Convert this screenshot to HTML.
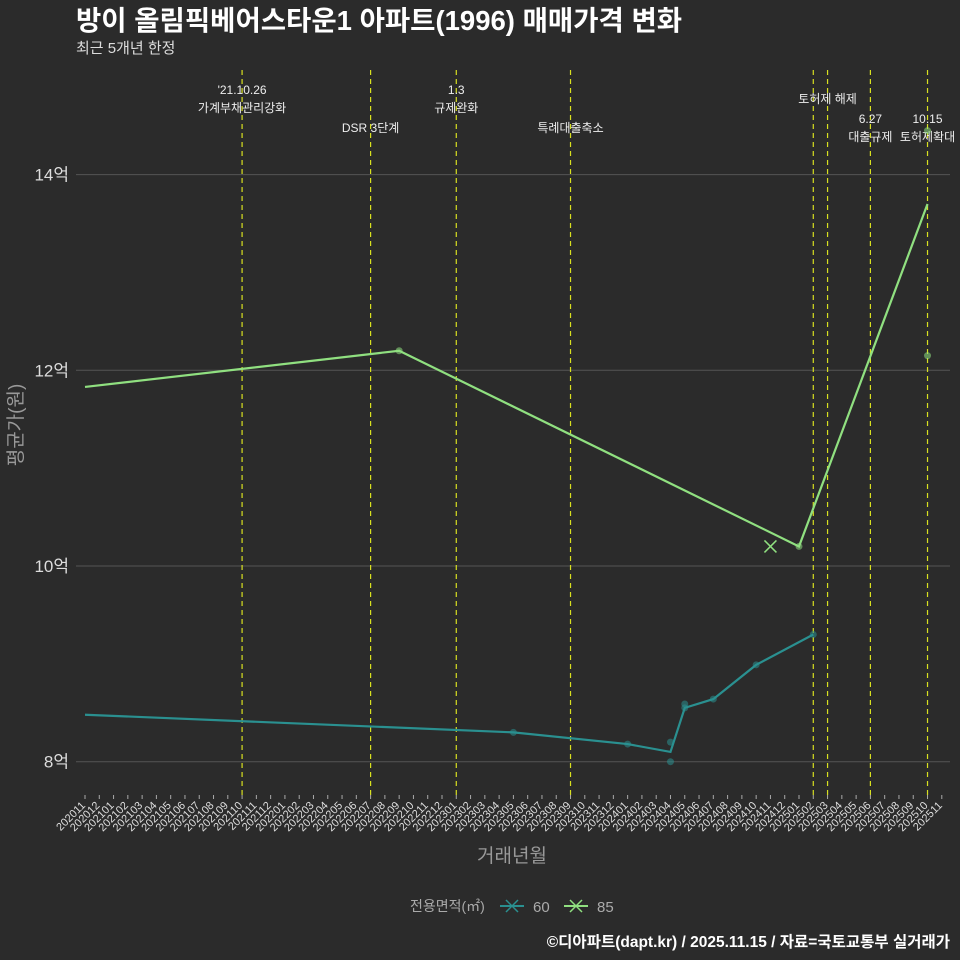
<!DOCTYPE html>
<html><head><meta charset="utf-8"><style>
body{margin:0;background:#2b2b2b;overflow:hidden;}
svg{display:block;}
svg text{font-family:"Liberation Sans","Noto Sans CJK KR",sans-serif;}
</style></head><body>
<svg width="960" height="960" viewBox="0 0 960 960" xmlns="http://www.w3.org/2000/svg">
<rect width="960" height="960" fill="#2b2b2b"/>
<text x="76" y="30" font-size="27.5" font-weight="bold" fill="#fff">방이 올림픽베어스타운1 아파트(1996) 매매가격 변화</text>
<text x="76" y="53" font-size="15" fill="#ddd">최근 5개년 한정</text>
<g id="grid"></g>
<g id="vlines"></g>
<g id="series"></g>
<g id="xaxis"></g>
<text x="512" y="862" font-size="19" fill="#999" text-anchor="middle">거래년월</text>
<text transform="translate(22,425) rotate(-90)" font-size="19" fill="#999" text-anchor="middle">평균가(원)</text>
<g>
<text x="410" y="911" font-size="14" fill="#aaa">전용면적(㎡)</text>
<g><line x1="500" y1="906" x2="524" y2="906" stroke="#2a9090" stroke-width="2"/><path d="M506 900l12 12M518 900l-12 12" stroke="#2a9090" stroke-width="1.5"/><text x="533" y="912" font-size="15" fill="#aaa">60</text></g>
<g><line x1="564" y1="906" x2="588" y2="906" stroke="#90e080" stroke-width="2"/><path d="M570 900l12 12M582 900l-12 12" stroke="#90e080" stroke-width="1.5"/><text x="597" y="912" font-size="15" fill="#aaa">85</text></g>
</g>
<text x="950" y="947" font-size="15.5" font-weight="bold" fill="#fff" text-anchor="end">©디아파트(dapt.kr) / 2025.11.15 / 자료=국토교통부 실거래가</text>
</svg>
<script>
const yTicks=[8,10,12,14];
const eventMonths=[11,20,26,34,51,52,55,59];
const eventLabels=[["'21.10.26","가계부채관리강화"],["","DSR 3단계"],["1.3","규제완화"],["","특례대출축소"],[],["토허제 해제"],["6.27","대출규제"],["10.15","토허제확대"]];
const s85LineM=[0,22,50,59];
const s85LineV=[11.83,12.2,10.2,13.7];
const s85PtM=[22,50,59,59];
const s85PtV=[12.2,10.2,12.15,14.45];
const s60LineM=[0,30,38,41,42,44,47,51];
const s60LineV=[8.48,8.3,8.18,8.1,8.55,8.64,8.99,9.3];
const s60PtM=[30,38,41,41,42,42,44,47,51];
const s60PtV=[8.3,8.18,8.0,8.2,8.59,8.55,8.64,8.99,9.3];
const xm=m=>85+m*14.28;
const yv=v=>566-(v-10)*97.85;
const NS="http://www.w3.org/2000/svg";
function mk(p,t,a){const e=document.createElementNS(NS,t);for(const k in a)e.setAttribute(k,a[k]);p.appendChild(e);return e;}
const grid=document.getElementById('grid');
yTicks.forEach(v=>{
 const l=mk(grid,'line',{x1:76,x2:950,y1:yv(v),y2:yv(v),stroke:'#555','stroke-width':1});
 
 
 const t=mk(grid,'text',{x:69,y:yv(v)+6,'font-size':17,fill:'#ddd','text-anchor':'end'});t.textContent=v+'억';
 
 
});
const vl=document.getElementById('vlines');
const labY=[[94,112],[0,132],[94,112],[0,132],[],[103],[123,141],[123,141]];
eventMonths.forEach((m,i)=>{
 const l=mk(vl,'line',{x1:xm(m),x2:xm(m),y1:70,y2:795,stroke:'#d8e020','stroke-width':1.2,'stroke-dasharray':'5,4'});
 
 
 (eventLabels[i]||[]).forEach((s,j)=>{if(!s)return;
  const t=mk(vl,'text',{x:xm(m),y:labY[i][j],'font-size':12,fill:'#eee','text-anchor':'middle'});t.textContent=s;
  
  
 });
});
const xa=document.getElementById('xaxis');
for(let m=0;m<=60;m++){
 const mo=11+m;const yr=2020+Math.floor((mo-1)/12),mm=((mo-1)%12)+1;
 const lab=yr+''+String(mm).padStart(2,'0');
 const x=xm(m);
 const tk=mk(xa,'line',{x1:x,x2:x,y1:795,y2:799,stroke:'#aaa'});
 
 
 const t=mk(xa,'text',{transform:`translate(${x+1},806) rotate(-45)`,'font-size':11,fill:'#ddd','text-anchor':'end'});t.textContent=lab;
 
 
}
const sg=document.getElementById('series');
function series(lm,lv,pm,pv,col,name){
 const d=lm.map((m,i)=>(i?'L':'M')+xm(m)+' '+yv(lv[i])).join('');
 const p=mk(sg,'path',{d:d,fill:'none',stroke:col,'stroke-width':2.2});
 
 
 pm.forEach((m,i)=>{const c=mk(sg,'circle',{cx:xm(m),cy:yv(pv[i]),r:3.5,fill:col,'fill-opacity':0.55});
  
  });
}
series(s60LineM,s60LineV,s60PtM,s60PtV,'#2a9090','60');
series(s85LineM,s85LineV,s85PtM,s85PtV,'#90e080','85');
const xmk=mk(sg,'path',{d:`M${xm(48)-6} ${yv(10.2)-6}l12 12M${xm(48)+6} ${yv(10.2)-6}l-12 12`,stroke:'#90e080','stroke-width':1.5});


</script>
</body></html>
